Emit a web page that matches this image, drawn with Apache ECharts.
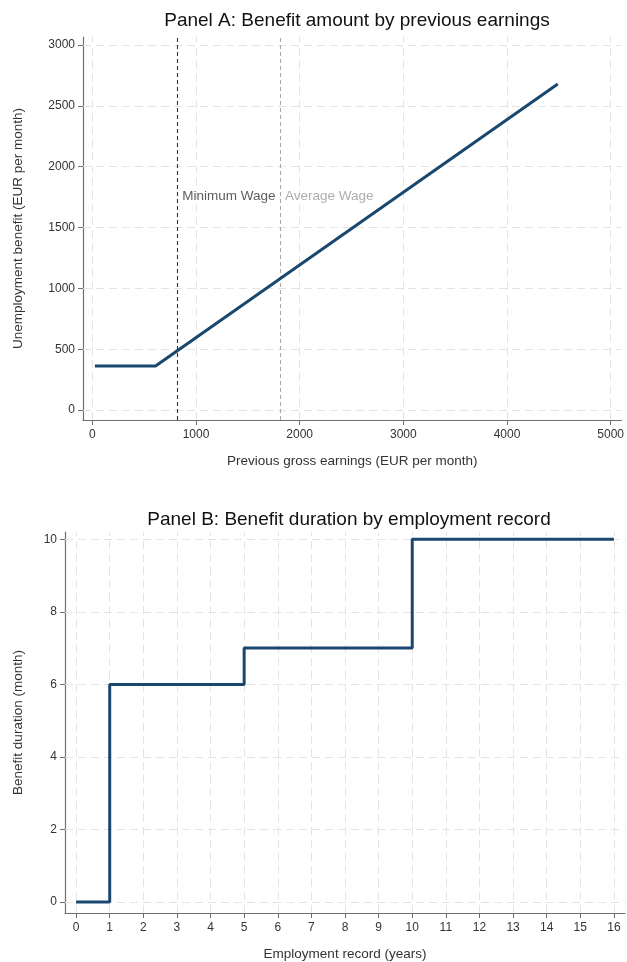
<!DOCTYPE html>
<html>
<head>
<meta charset="utf-8">
<script src="https://cdn.jsdelivr.net/npm/echarts@6/dist/echarts.min.js"></script>
<style>
  html, body { margin: 0; padding: 0; background: #fff; }
  #chart { width: 627px; height: 962px; }
</style>
</head>
<body>
<div id="chart"></div>
<script>
// Panel A: benefit amount schedule (EUR per month)
const earnings = [25, 610, 4490];
const benefit = [362, 362, 2680];
const earnTicks = [0, 1000, 2000, 3000, 4000, 5000];
const benefitTicks = [0, 500, 1000, 1500, 2000, 2500, 3000];
const minimumWage = 820;
const averageWage = 1810;
const refLabelLevel = 1760;

// Panel B: benefit duration schedule
const recordYears = [0, 1, 5, 10, 16];
const durationMonths = [0, 6, 7, 10, 10];
const yearTicks = [0, 1, 2, 3, 4, 5, 6, 7, 8, 9, 10, 11, 12, 13, 14, 15, 16];
const monthTicks = [0, 2, 4, 6, 8, 10];

const FONT = "'Liberation Sans', Arial, sans-serif";
const NAVY = '#1a476f';
const AXIS = '#707070';
const TEXT = '#333';
const GRID = '#e4e4e4';
const plain = v => String(v);

function xAxisOf(gridIndex, ticks, min, max, name, gap) {
  return {
    gridIndex, type: 'value', min, max,
    name, nameLocation: 'middle', nameGap: gap,
    nameTextStyle: { fontFamily: FONT, fontSize: 13.5, color: TEXT },
    splitLine: { show: false },
    axisLine: { show: true, onZero: false, lineStyle: { color: AXIS, width: 1.2 } },
    axisTick: { show: true, customValues: ticks, length: 5, lineStyle: { color: AXIS } },
    axisLabel: { customValues: ticks, formatter: plain, fontFamily: FONT, fontSize: 12, color: TEXT, margin: 9 }
  };
}
function yAxisOf(gridIndex, ticks, min, max, name, gap) {
  return {
    gridIndex, type: 'value', min, max,
    name, nameLocation: 'middle', nameGap: gap, nameRotate: 90,
    nameTextStyle: { fontFamily: FONT, fontSize: 13.5, color: TEXT },
    splitLine: { show: false },
    axisLine: { show: true, onZero: false, lineStyle: { color: AXIS, width: 1.2 } },
    axisTick: { show: true, customValues: ticks, length: 5, lineStyle: { color: AXIS } },
    axisLabel: { customValues: ticks, formatter: plain, fontFamily: FONT, fontSize: 12, color: TEXT, margin: 8 }
  };
}
// light dashed grid at every labelled tick
function gridLines(idx, xt, yt) {
  return {
    type: 'line', xAxisIndex: idx, yAxisIndex: idx, data: [], z: 1, silent: true,
    markLine: {
      z: 1, silent: true, symbol: ['none', 'none'], label: { show: false },
      lineStyle: { type: [8, 5], color: GRID, width: 1 },
      emphasis: { disabled: true },
      data: xt.map(v => ({ xAxis: v })).concat(yt.map(v => ({ yAxis: v })))
    }
  };
}

const option = {
  backgroundColor: '#fff',
  animation: false,
  title: [
    { text: 'Panel A: Benefit amount by previous earnings', left: 352, top: 6, textAlign: 'center',
      textStyle: { fontFamily: FONT, fontSize: 19, fontWeight: 'normal', color: '#111' } },
    { text: 'Panel B: Benefit duration by employment record', left: 344, top: 505, textAlign: 'center',
      textStyle: { fontFamily: FONT, fontSize: 19, fontWeight: 'normal', color: '#111' } }
  ],
  grid: [
    { left: 83, top: 37, width: 541, height: 383 },
    { left: 65, top: 532, width: 560, height: 383 }
  ],
  xAxis: [
    xAxisOf(0, earnTicks, -90, 5105, 'Previous gross earnings (EUR per month)', 34),
    xAxisOf(1, yearTicks, -0.33, 16.33, 'Employment record (years)', 34)
  ],
  yAxis: [
    yAxisOf(0, benefitTicks, -82, 3066, 'Unemployment benefit (EUR per month)', 58),
    yAxisOf(1, monthTicks, -0.3, 10.2, 'Benefit duration (month)', 40)
  ],
  series: [
    gridLines(0, earnTicks, benefitTicks),
    gridLines(1, yearTicks, monthTicks),
    {
      type: 'line', xAxisIndex: 0, yAxisIndex: 0, z: 2, silent: true, data: [],
      markLine: {
        z: 2, silent: true, symbol: ['none', 'none'], label: { show: false },
        emphasis: { disabled: true },
        data: [
          { xAxis: minimumWage, lineStyle: { type: [4, 3], color: '#333', width: 1.1 } },
          { xAxis: averageWage, lineStyle: { type: [4, 3], color: '#aaa', width: 1.1 } }
        ]
      }
    },
    {
      type: 'scatter', xAxisIndex: 0, yAxisIndex: 0, z: 4, silent: true, symbolSize: 0,
      data: [
        { value: [minimumWage, refLabelLevel], name: 'Minimum Wage', label: { color: '#333' } },
        { value: [averageWage, refLabelLevel], name: 'Average Wage', label: { color: '#999' } }
      ],
      label: { show: true, position: 'right', distance: 5, formatter: p => p.name,
        fontFamily: FONT, fontSize: 13.5 }
    },
    {
      type: 'line', xAxisIndex: 0, yAxisIndex: 0, z: 3, silent: true,
      showSymbol: false, symbol: 'none',
      lineStyle: { color: NAVY, width: 3 },
      data: earnings.map((x, i) => [x, benefit[i]])
    },
    {
      type: 'line', xAxisIndex: 1, yAxisIndex: 1, z: 3, silent: true,
      step: 'end', showSymbol: false, symbol: 'none',
      lineStyle: { color: NAVY, width: 3 },
      data: recordYears.map((x, i) => [x, durationMonths[i]])
    }
  ]
};

const chart = echarts.init(document.getElementById('chart'), null, { renderer: 'canvas' });
chart.setOption(option);
</script>
</body>
</html>
